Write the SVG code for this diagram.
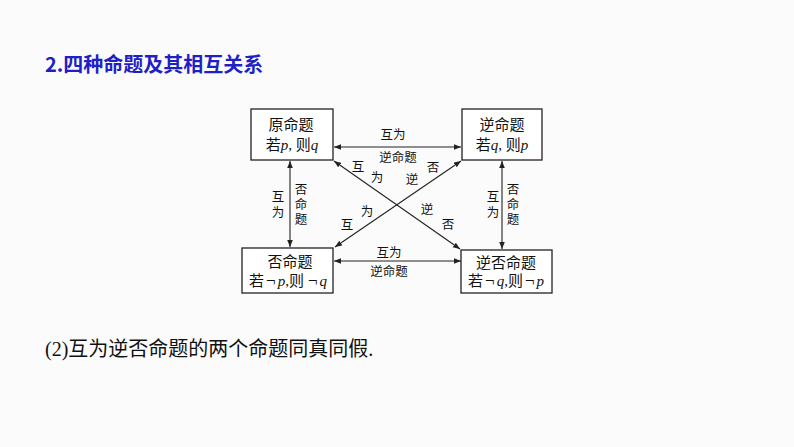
<svg xmlns="http://www.w3.org/2000/svg" width="794" height="447" viewBox="0 0 794 447">
<defs>
<style>
.box{fill:#ffffff;stroke:#222;stroke-width:1.3}
.bt{font-family:"Liberation Serif","Noto Sans CJK SC",serif;font-size:15px;fill:#111;text-anchor:middle}
.lb{font-family:"Liberation Serif","Noto Sans CJK SC",serif;font-size:12.5px;fill:#111;text-anchor:middle}
.it{font-style:italic}
.ng{font-size:17px}
.con{stroke:#222;stroke-width:1.1;fill:none;marker-start:url(#ah);marker-end:url(#ah)}
</style>
<marker id="ah" viewBox="0 0 10 10" refX="10" refY="5" markerWidth="7" markerHeight="7" markerUnits="userSpaceOnUse" orient="auto-start-reverse">
<path d="M0,1 L10,5 L0,9 Z" fill="#222"/>
</marker>
</defs>
<rect width="794" height="447" fill="#fbfbfb"/>
<text x="45" y="72" font-family="'Noto Sans CJK SC','Liberation Sans',sans-serif" font-size="20" font-weight="bold" fill="#1f1fc8">2.四种命题及其相互关系</text>

<g id="connectors">
<line class="con" x1="334" y1="147" x2="461" y2="147"/>
<line class="con" x1="334" y1="261" x2="461" y2="261"/>
<line class="con" x1="290" y1="161" x2="290" y2="247"/>
<line class="con" x1="502" y1="161" x2="502" y2="249"/>
<line class="con" x1="334" y1="161" x2="460" y2="249"/>
<line class="con" x1="461" y1="161" x2="335" y2="247"/>
<text class="lb" x="393" y="139">互为</text>
<text class="lb" x="398" y="162">逆命题</text>
<text class="lb" x="389" y="257">互为</text>
<text class="lb" x="389" y="276">逆命题</text>
<text class="lb" x="278" y="201">互</text>
<text class="lb" x="278" y="217">为</text>
<text class="lb" x="301" y="194">否</text>
<text class="lb" x="301" y="209">命</text>
<text class="lb" x="301" y="224">题</text>
<text class="lb" x="493" y="201">互</text>
<text class="lb" x="493" y="217">为</text>
<text class="lb" x="513" y="194">否</text>
<text class="lb" x="513" y="209">命</text>
<text class="lb" x="513" y="224">题</text>
<text class="lb" x="358" y="171">互</text>
<text class="lb" x="377" y="182">为</text>
<text class="lb" x="427" y="214">逆</text>
<text class="lb" x="448" y="229">否</text>
<text class="lb" x="433" y="172">否</text>
<text class="lb" x="412" y="184">逆</text>
<text class="lb" x="367" y="216">为</text>
<text class="lb" x="347" y="229">互</text>
</g>

<g id="n1">
<rect class="box" x="251" y="109" width="82" height="51"/>
<text class="bt" x="291" y="130">原命题</text>
<text class="bt" x="292" y="150">若<tspan class="it">p</tspan>, 则<tspan class="it">q</tspan></text>
</g>
<g id="n2">
<rect class="box" x="462" y="109" width="80" height="51"/>
<text class="bt" x="502" y="130">逆命题</text>
<text class="bt" x="502" y="150">若<tspan class="it">q</tspan>, 则<tspan class="it">p</tspan></text>
</g>
<g id="n3">
<rect class="box" x="242" y="248" width="91" height="45"/>
<text class="bt" x="290" y="267">否命题</text>
<text class="bt" x="288" y="286">若<tspan class="ng" dx="2">¬</tspan><tspan class="it" dx="2">p</tspan>,则<tspan class="ng" dx="4">¬</tspan><tspan class="it" dx="2">q</tspan></text>
</g>
<g id="n4">
<rect class="box" x="461" y="250" width="91" height="43"/>
<text class="bt" x="506" y="268">逆否命题</text>
<text class="bt" x="506" y="286">若<tspan class="ng" dx="2">¬</tspan><tspan class="it" dx="2">q</tspan>,则<tspan class="ng" dx="2">¬</tspan><tspan class="it" dx="2">p</tspan></text>
</g>

<text x="45" y="356" font-family="'Liberation Serif','Noto Sans CJK SC',serif" font-size="20" fill="#111">(2)互为逆否命题的两个命题同真同假.</text>
</svg>
